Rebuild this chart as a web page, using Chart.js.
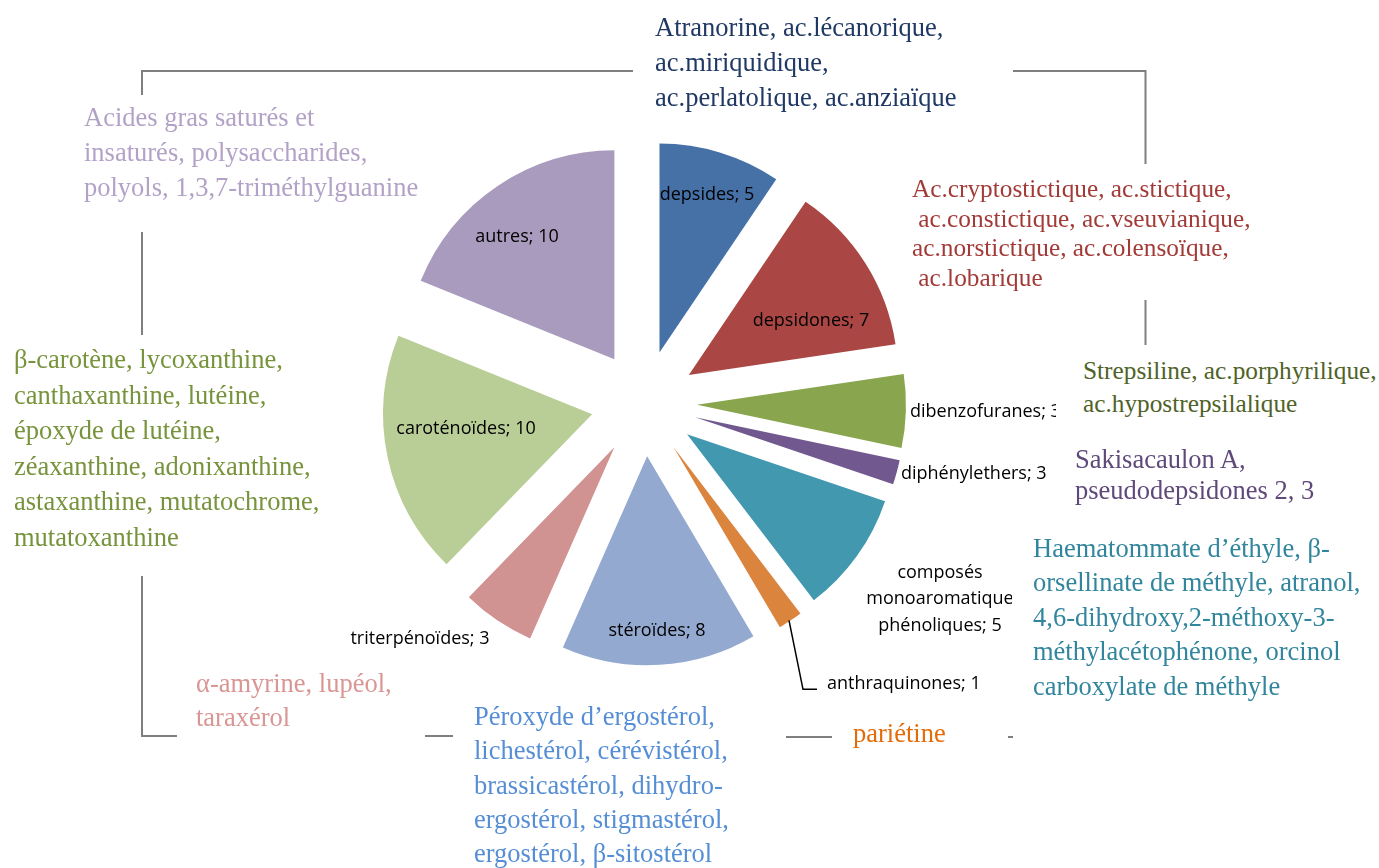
<!DOCTYPE html>
<html><head><meta charset="utf-8">
<script src="https://cdn.jsdelivr.net/npm/chart.js@4.4.1/dist/chart.umd.min.js"></script>
<style>
html,body{margin:0;padding:0;background:#fff;width:1379px;height:868px;overflow:hidden;position:relative}
#c{position:absolute;left:0;top:0}
svg{position:absolute;left:0;top:0}
.note{position:absolute;font-family:"Liberation Serif","Times New Roman",serif;font-size:26.5px;white-space:pre;margin:0}
</style></head><body>
<canvas id="c" width="1379" height="868"></canvas>
<svg width="1379" height="868" fill="none" stroke="#7F7F7F" stroke-width="2">
<polyline points="142,95 142,71 633,71"/>
<polyline points="1013,71 1145.5,71 1145.5,164"/>
<polyline points="1145.5,300 1145.5,345"/>
<polyline points="142,232 142,335"/>
<polyline points="142,576 142,736 177,736"/>
<polyline points="425,736 453,736"/>
<polyline points="786,737 832,737"/>
<polyline points="1008,737 1013,737"/>
</svg>
<div class="note" style="left:655px;top:9.5px;line-height:35px;color:#1F3864">Atranorine, ac.lécanorique,
ac.miriquidique,
ac.perlatolique, ac.anziaïque</div>
<div class="note" style="left:84px;top:99.5px;line-height:35px;color:#B3A2C7">Acides gras saturés et
insaturés, polysaccharides,
polyols, 1,3,7-triméthylguanine</div>
<div class="note" style="left:912px;top:174px;line-height:29.5px;font-size:25.3px;color:#A23B37">Ac.cryptostictique, ac.stictique,
 ac.constictique, ac.vseuvianique,
ac.norstictique, ac.colensoïque,
 ac.lobarique</div>
<div class="note" style="left:1056px;padding-left:27px;top:353.5px;line-height:33px;font-size:25.3px;color:#4F6228;background:#fff">Strepsiline, ac.porphyrilique,
ac.hypostrepsilalique</div>
<div class="note" style="left:1055px;padding-left:20px;top:443.5px;line-height:31px;color:#5F497A;background:#fff">Sakisacaulon A,
pseudodepsidones 2, 3</div>
<div class="note" style="left:1012px;padding-left:21px;top:530.75px;line-height:34.5px;color:#31859C;background:#fff">Haematommate d’éthyle, β-
orsellinate de méthyle, atranol,
4,6-dihydroxy,2-méthoxy-3-
méthylacétophénone, orcinol
carboxylate de méthyle</div>
<div class="note" style="left:853px;top:716px;line-height:34px;color:#E36C09">pariétine</div>
<div class="note" style="left:474px;top:699px;line-height:34.25px;color:#558ED5">Péroxyde d’ergostérol,
lichestérol, cérévistérol,
brassicastérol, dihydro-
ergostérol, stigmastérol,
ergostérol, β-sitostérol</div>
<div class="note" style="left:196px;top:667px;line-height:33.5px;color:#D99694">α-amyrine, lupéol,
taraxérol</div>
<div class="note" style="left:14px;top:342px;line-height:35.6px;color:#77933C">β-carotène, lycoxanthine,
canthaxanthine, lutéine,
époxyde de lutéine,
zéaxanthine, adonixanthine,
astaxanthine, mutatochrome,
mutatoxanthine</div>
<script>
// ---- data ----
const categories = ['depsides','depsidones','dibenzofuranes','diphénylethers','composés monoaromatique phénoliques','anthraquinones','stéroïdes','triterpénoïdes','caroténoïdes','autres'];
const sliceValues = [5, 7, 3, 1, 5, 1, 8, 3, 10, 10];
const labelCounts = [5, 7, 3, 3, 5, 1, 8, 3, 10, 10];
const labelLines = [['depsides'],['depsidones'],['dibenzofuranes'],['diphénylethers'],['composés','monoaromatique','phénoliques'],['anthraquinones'],['stéroïdes'],['triterpénoïdes'],['caroténoïdes'],['autres']];
const sliceColors = ['#4671A7','#AA4643','#89A54E','#71588F','#4198AF','#DB843D','#93A9CF','#D19392','#B9CD96','#A99BBD'];

// ---- layout / style ----
const pieRadius = 209;
const explodePx = 53;
// label anchor relative to pie centre: [dx, dy, align]
const labelPos = [[63,-208,'center'],[167,-82,'center'],[266,9,'left'],[257,71,'left'],[296,196,'center'],[183,281,'left'],[13,228,'center'],[-224,236,'center'],[-178,26,'center'],[-127,-166,'center']];
const leader = [[145,217],[159,286],[173,286]]; // anthraquinones leader line

// explode every slice outward along its bisector
const explodePlugin = {
  id: 'explode',
  beforeDatasetsDraw(chart) {
    const a = chart.chartArea;
    const cx = (a.left + a.right) / 2, cy = (a.top + a.bottom) / 2;
    chart.getDatasetMeta(0).data.forEach(arc => {
      const mid = (arc.startAngle + arc.endAngle) / 2;
      arc.x = cx + explodePx * Math.cos(mid);
      arc.y = cy + explodePx * Math.sin(mid);
      arc.outerRadius = pieRadius;
    });
  }
};
const labelPlugin = {
  id: 'sliceLabels',
  afterDatasetsDraw(chart) {
    const ctx = chart.ctx;
    const a = chart.chartArea;
    const cx = (a.left + a.right) / 2, cy = (a.top + a.bottom) / 2;
    ctx.save();
    ctx.font = '18px "Open Sans", sans-serif';
    ctx.fillStyle = '#000';
    ctx.textBaseline = 'middle';
    labelLines.forEach((lines, i) => {
      const [dx, dy, align] = labelPos[i];
      const txt = lines.slice();
      txt[txt.length - 1] += '; ' + labelCounts[i];
      const lh = 26.5;
      const y0 = cy + dy - (txt.length - 1) * lh / 2;
      ctx.textAlign = align;
      txt.forEach((t, k) => ctx.fillText(t, cx + dx, y0 + k * lh));
    });
    ctx.strokeStyle = '#000';
    ctx.lineWidth = 1.5;
    ctx.beginPath();
    leader.forEach(([x, y], k) => k ? ctx.lineTo(cx + x, cy + y) : ctx.moveTo(cx + x, cy + y));
    ctx.stroke();
    ctx.restore();
  }
};

new Chart(document.getElementById('c'), {
  type: 'pie',
  data: {
    labels: categories,
    datasets: [{
      data: sliceValues,
      backgroundColor: sliceColors,
      borderWidth: 0,
      offset: 0,
      hoverOffset: 0
    }]
  },
  options: {
    responsive: false,
    animation: false,
    events: [],
    radius: pieRadius,
    layout: { padding: { left: 0, right: 91, top: 0, bottom: 61.4 } },
    plugins: { legend: { display: false }, tooltip: { enabled: false }, title: { display: false } }
  },
  plugins: [explodePlugin, labelPlugin]
});
</script>
</body></html>
